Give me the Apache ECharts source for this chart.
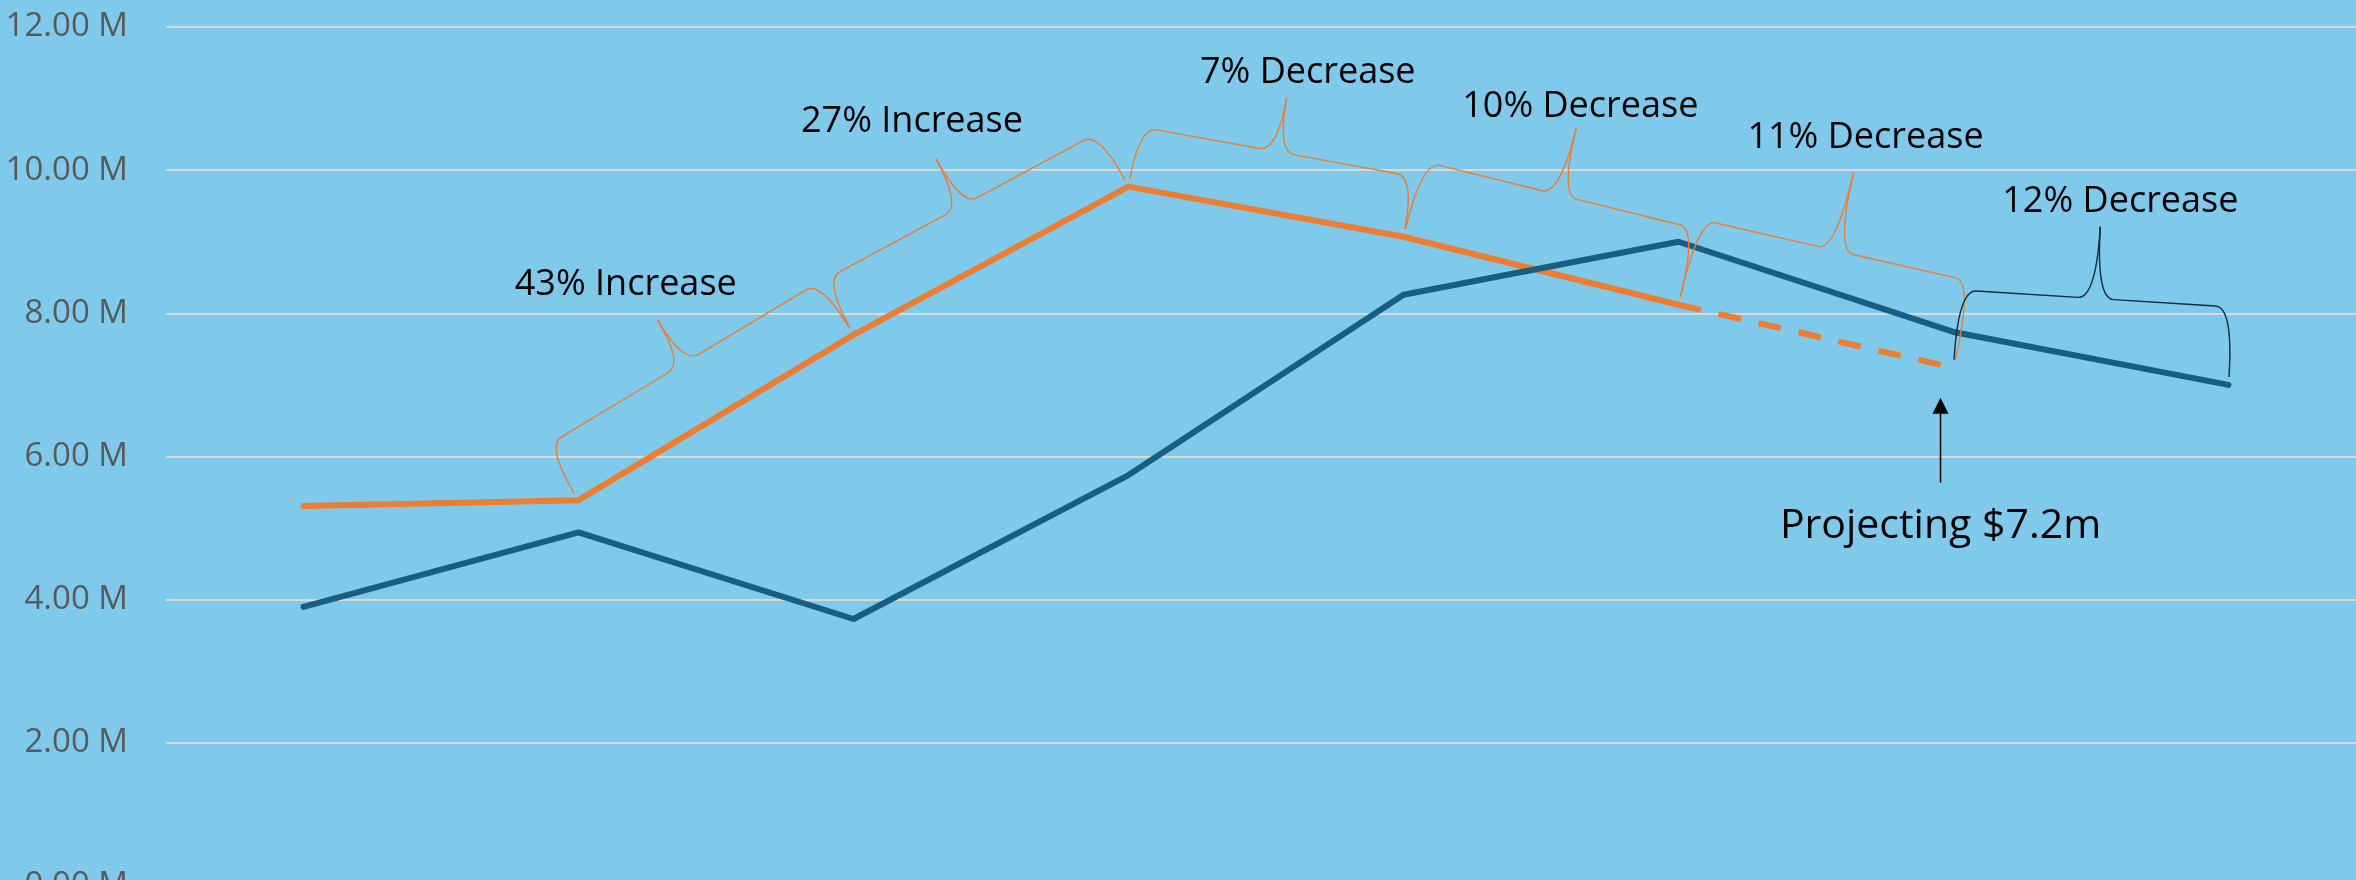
<!doctype html>
<html>
<head>
<meta charset="utf-8">
<title>Revenue vs target</title>
<style>
  html, body { margin: 0; padding: 0; background: #7FC9EA; }
  #main { width: 2356px; height: 880px; }
</style>
</head>
<body>
<div id="main"></div>
<script src="https://cdn.jsdelivr.net/npm/echarts@6/dist/echarts.min.js"></script>
<script>
// ---- data (millions) ----
var periods = ['P1', 'P2', 'P3', 'P4', 'P5', 'P6', 'P7', 'P8'];
var actual = [3.90, 4.94, 3.73, 5.74, 8.26, 9.00, 7.74, 7.00];
var target = [5.31, 5.39, 7.70, 9.77, 9.07, 8.12, '-', '-'];
var projected = ['-', '-', '-', '-', '-', 8.12, 7.24, '-'];
var yTicks = [0, 2, 4, 6, 8, 10, 12];

// change annotations: label and the two points each brace spans
var changeLabels = ['43% Increase', '27% Increase', '7% Decrease', '10% Decrease', '11% Decrease', '12% Decrease'];
var changeFrom = [['target', 1], ['target', 2], ['target', 3], ['target', 4], ['target', 5], ['projected', 6]];
var changeTo = [['target', 2], ['target', 3], ['target', 4], ['target', 5], ['projected', 6], ['actual', 7]];
var projectionNote = 'Projecting $7.2m';
var projectionAt = ['projected', 6];

// ---- layout / style for the braces ----
var braceLeg = [55, 54, 53, 70, 80, 70];
var braceTip = [50, 54, 55, 69, 80, 72];
var braceColor = ['#ED7D31', '#ED7D31', '#ED7D31', '#ED7D31', '#ED7D31', '#10283C'];
var labelShift = [[-32, -36], [-24, -37], [21, -25], [4, -21], [12, -35], [20, -25]];

var FONT = '"Open Sans", "Noto Sans", sans-serif';
var ORANGE = '#ED7D31';
var BLUE = '#175E82';

var chart = echarts.init(document.getElementById('main'));

chart.setOption({
    backgroundColor: '#7FC9EA',
    animation: false,
    grid: {
        left: 166,
        top: 27,
        width: 2200,
        height: 859,
        containLabel: false,
        outerBoundsMode: 'none'
    },
    xAxis: {
        type: 'category',
        data: periods,
        boundaryGap: true,
        axisLine: { show: false },
        axisTick: { show: false },
        axisLabel: { show: false },
        splitLine: { show: false }
    },
    yAxis: {
        type: 'value',
        min: yTicks[0],
        max: yTicks[yTicks.length - 1],
        interval: yTicks[1] - yTicks[0],
        axisLine: { show: false },
        axisTick: { show: false },
        axisLabel: {
            formatter: function (v) { return v.toFixed(2) + ' M'; },
            color: '#595959',
            fontFamily: FONT,
            fontSize: 33,
            margin: 38
        },
        splitLine: { lineStyle: { color: '#D9D9D9', width: 2 } }
    },
    series: [
        {
            name: 'Target',
            type: 'line',
            data: target,
            symbol: 'none',
            z: 2,
            lineStyle: { color: ORANGE, width: 6, cap: 'round', join: 'round' }
        },
        {
            name: 'Projected',
            type: 'line',
            data: projected,
            symbol: 'none',
            z: 2,
            lineStyle: { color: ORANGE, width: 6, type: [23, 18], cap: 'butt' }
        },
        {
            name: 'Actual',
            type: 'line',
            data: actual,
            symbol: 'none',
            z: 3,
            lineStyle: { color: BLUE, width: 6, cap: 'round', join: 'round' }
        }
    ]
});

var seriesData = { target: target, projected: projected, actual: actual };

function toPixel(ref) {
    return chart.convertToPixel({ gridIndex: 0 }, [ref[1], seriesData[ref[0]][ref[1]]]);
}

// curly brace laid along the segment a -> b, opening toward the line
function brace(a, b, leg, tip, color) {
    var gap = 8;
    var dx = b[0] - a[0], dy = b[1] - a[1];
    var len = Math.sqrt(dx * dx + dy * dy);
    var ux = dx / len, uy = dy / len;
    var nx = uy, ny = -ux;
    var r = 18;
    var m = len / 2;
    function p(s, w) {
        return [a[0] + ux * s + nx * (gap + w), a[1] + uy * s + ny * (gap + w)];
    }
    var style = { stroke: color, lineWidth: 1.4, fill: 'none' };
    function curve(p1, c, p2) {
        return {
            type: 'bezierCurve', silent: true, z: 50,
            shape: { x1: p1[0], y1: p1[1], cpx1: c[0], cpy1: c[1], x2: p2[0], y2: p2[1] },
            style: style
        };
    }
    function seg(p1, p2) {
        return {
            type: 'line', silent: true, z: 50,
            shape: { x1: p1[0], y1: p1[1], x2: p2[0], y2: p2[1] },
            style: style
        };
    }
    return {
        tip: p(m, leg + tip),
        elements: [
            curve(p(0, 0), p(0, leg), p(r, leg)),
            seg(p(r, leg), p(m - r, leg)),
            curve(p(m - r, leg), p(m, leg), p(m, leg + tip)),
            curve(p(m, leg + tip), p(m, leg), p(m + r, leg)),
            seg(p(m + r, leg), p(len - r, leg)),
            curve(p(len - r, leg), p(len, leg), p(len, 0))
        ]
    };
}

function buildGraphics() {
    var elements = [];
    changeLabels.forEach(function (label, i) {
        var br = brace(toPixel(changeFrom[i]), toPixel(changeTo[i]), braceLeg[i], braceTip[i], braceColor[i]);
        elements = elements.concat(br.elements);
        elements.push({
            type: 'text', silent: true, z: 60,
            x: br.tip[0] + labelShift[i][0],
            y: br.tip[1] + labelShift[i][1],
            style: {
                text: label,
                fill: '#000',
                font: '36px ' + FONT,
                align: 'center',
                verticalAlign: 'middle'
            }
        });
    });

    // arrow + note under the projected point
    var pt = toPixel(projectionAt);
    var ax = pt[0] - 13;
    elements.push({
        type: 'line', silent: true, z: 60,
        shape: { x1: ax, y1: pt[1] + 115, x2: ax, y2: pt[1] + 40 },
        style: { stroke: '#000', lineWidth: 1.5 }
    });
    elements.push({
        type: 'polygon', silent: true, z: 60,
        shape: { points: [[ax, pt[1] + 30], [ax - 8, pt[1] + 46], [ax + 8, pt[1] + 46]] },
        style: { fill: '#000' }
    });
    elements.push({
        type: 'text', silent: true, z: 60,
        x: ax,
        y: pt[1] + 159,
        style: {
            text: projectionNote,
            fill: '#000',
            font: '41px ' + FONT,
            align: 'center',
            verticalAlign: 'middle'
        }
    });
    return elements;
}

chart.setOption({ graphic: { elements: buildGraphics() } });

window.addEventListener('resize', function () {
    chart.resize();
    chart.setOption({ graphic: { elements: buildGraphics() } });
});
</script>
</body>
</html>
